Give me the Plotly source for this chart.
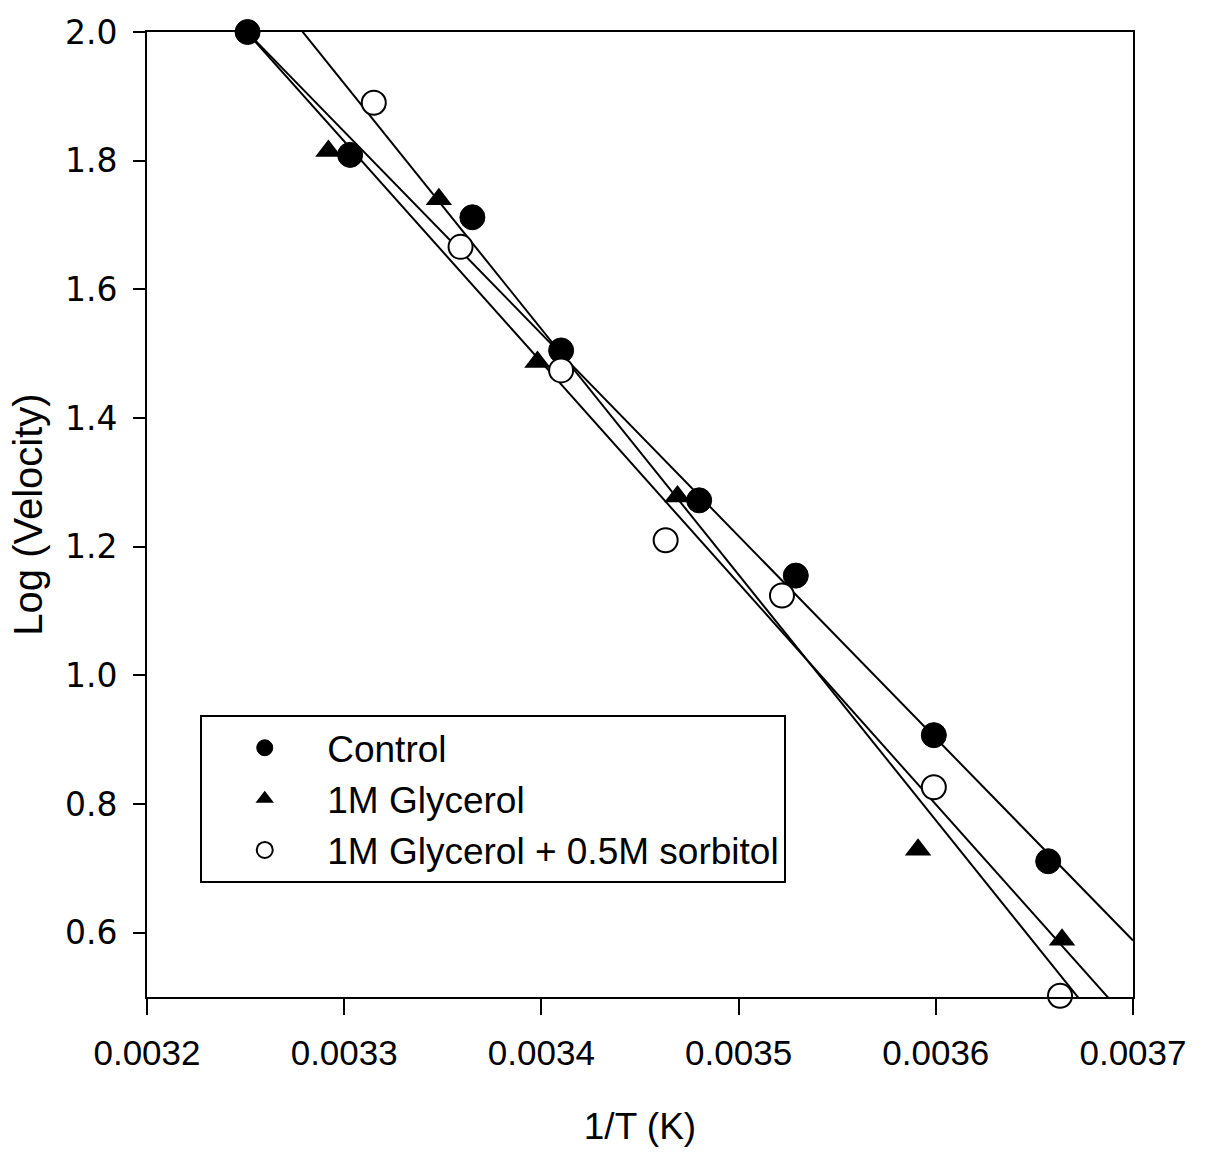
import plotly.graph_objects as go

# ---- data ----
x_control = [0.003251, 0.003303, 0.003365, 0.003410, 0.003480, 0.003529, 0.003599, 0.003657]
y_control = [2.000, 1.809, 1.712, 1.505, 1.272, 1.155, 0.907, 0.711]

x_glycerol = [0.003292, 0.003348, 0.003398, 0.003469, 0.003591, 0.003664]
y_glycerol = [1.815, 1.740, 1.487, 1.278, 0.729, 0.589]

x_sorbitol = [0.003315, 0.003359, 0.003410, 0.003463, 0.003522, 0.003599, 0.003663]
y_sorbitol = [1.890, 1.666, 1.474, 1.210, 1.124, 0.826, 0.502]

# linear fits (log v = intercept + slope * 1/T)
fit_names = ["Control fit", "1M Glycerol fit", "1M Glycerol + 0.5M sorbitol fit"]
fit_slope = [-3143.0, -3436.0, -3817.0]
fit_intercept = [12.217, 13.169, 14.516]

x_ticks = [0.0032, 0.0033, 0.0034, 0.0035, 0.0036, 0.0037]
y_ticks = [0.6, 0.8, 1.0, 1.2, 1.4, 1.6, 1.8, 2.0]
x_range = [0.0032, 0.0037]
y_range = [0.5, 2.0]

FONT = "Liberation Sans, Arial, Helvetica, sans-serif"
YFONT = "DejaVu Sans, Liberation Sans, sans-serif"

fig = go.Figure()

for name, m, b in zip(fit_names, fit_slope, fit_intercept):
    fig.add_trace(go.Scatter(
        x=x_range, y=[b + m * x_range[0], b + m * x_range[1]],
        mode="lines", line=dict(color="black", width=2),
        name=name, showlegend=False, hoverinfo="skip"))

fig.add_trace(go.Scatter(
    x=x_control, y=y_control, mode="markers", name="Control",
    marker=dict(symbol="circle", size=25, color="black",
                line=dict(color="black", width=1)),
    cliponaxis=False))
fig.add_trace(go.Scatter(
    x=x_glycerol, y=y_glycerol, mode="markers", name="1M Glycerol",
    marker=dict(symbol="triangle-up", size=23, color="black",
                line=dict(color="black", width=0)),
    cliponaxis=False))
fig.add_trace(go.Scatter(
    x=x_sorbitol, y=y_sorbitol, mode="markers",
    name="1M Glycerol + 0.5M sorbitol",
    marker=dict(symbol="circle", size=24, color="white",
                line=dict(color="black", width=2)),
    cliponaxis=False))

fig.update_layout(
    width=1205, height=1152,
    margin=dict(l=147, r=72, t=32, b=155, pad=0),
    paper_bgcolor="white", plot_bgcolor="white",
    font=dict(family=FONT, size=34, color="black"),
    showlegend=True,
    legend=dict(
        x=0.054, y=0.292, xanchor="left", yanchor="top",
        bgcolor="white", bordercolor="black", borderwidth=2,
        font=dict(family=FONT, size=37, color="black"),
        itemwidth=115, tracegroupgap=0,
    ),
    xaxis=dict(
        range=x_range, tickvals=x_ticks, ticktext=[f"{v:.4f}" for v in x_ticks],
        showgrid=False, zeroline=False,
        showline=True, mirror=True, linecolor="black", linewidth=2,
        ticks="outside", ticklen=16, tickwidth=2, tickcolor="black",
        ticklabelstandoff=8,
        tickfont=dict(family=FONT, size=35, color="black"),
        title=dict(text="1/T (K)", font=dict(family=FONT, size=37, color="black"),
                   standoff=42),
    ),
    yaxis=dict(
        range=y_range, tickvals=y_ticks, ticktext=[f"{v:.1f}" for v in y_ticks],
        showgrid=False, zeroline=False,
        showline=True, mirror=True, linecolor="black", linewidth=2,
        ticks="outside", ticklen=12, tickwidth=2, tickcolor="black",
        ticklabelstandoff=9,
        tickfont=dict(family=YFONT, size=33, color="black"),
        title=dict(text="Log (Velocity)", font=dict(family=FONT, size=40, color="black"),
                   standoff=10),
    ),
)

fig.write_html("out.html")
